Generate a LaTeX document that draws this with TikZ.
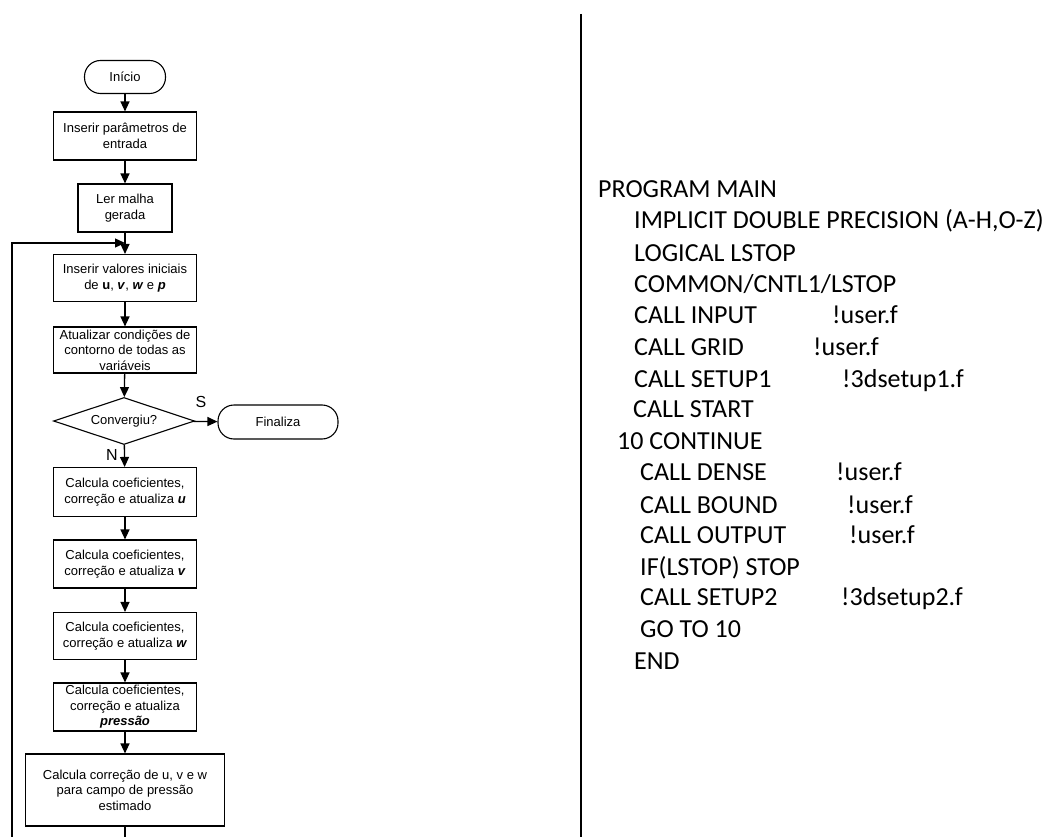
\documentclass[tikz,border=0pt]{standalone}
\usepackage{fontspec}
\setmainfont{Liberation Sans}
\newfontfamily\codefont{Carlito}
\usetikzlibrary{shapes.geometric,arrows.meta}
\begin{document}
\begin{tikzpicture}[x=1pt, y=-1pt, every node/.style={font=\fontsize{13}{15.5}\selectfont}]
  \tikzstyle{proc}=[draw,line width=1.1pt,minimum width=143pt,minimum height=48pt,align=center,inner sep=2pt]
  \tikzstyle{term}=[draw,line width=1.1pt,rounded corners=16pt,minimum height=33pt,align=center]
  \tikzstyle{flow}=[line width=1.3pt,-{Triangle[length=10pt,width=9pt]}]
  \tikzstyle{code}=[anchor=base west,inner sep=0pt,font=\codefont\fontsize{26}{30}\selectfont]
  \useasboundingbox (0,0) rectangle (1049,837);
  % flowchart
  \node[term,minimum width=81pt] (ini) at (125,77) {Início};
  \node[proc] (par) at (125,136) {Inserir parâmetros de\\entrada};
  \node[proc,minimum width=94pt] (ler) at (125,208) {Ler malha\\gerada};
  \node[proc,minimum height=47pt] (iniv) at (125,278) {Inserir valores iniciais\\de \textbf{u}, \textbf{\textit{v}}, \textbf{\textit{w}} e \textbf{\textit{p}}};
  \node[proc,minimum height=46pt] (cont) at (125,350) {Atualizar condições de\\contorno de todas as\\variáveis};
  \node[draw,line width=1.1pt,diamond,aspect=3,inner sep=0pt,minimum width=141pt,minimum height=47pt] (conv) at (124,421) {Convergiu?};
  \node[term,minimum width=120pt,minimum height=34pt] (fim) at (278,422) {Finaliza};
  \node[proc,minimum height=49pt] (cu) at (125,492) {Calcula coeficientes,\\correção e atualiza \textbf{\textit{u}}};
  \node[proc] (cv) at (125,564) {Calcula coeficientes,\\correção e atualiza \textbf{\textit{v}}};
  \node[proc,minimum height=47pt] (cw) at (125,636) {Calcula coeficientes,\\correção e atualiza \textbf{\textit{w}}};
  \node[proc] (cp) at (125,707) {Calcula coeficientes,\\correção e atualiza\\\textbf{\textit{pressão}}};
  \node[proc,minimum width=199pt,minimum height=72pt] (corr) at (125,790) {Calcula correção de u, v e w\\para campo de pressão\\estimado};
  \node[font=\fontsize{16}{18}\selectfont] (sim) at (201,402) {S};
  \node[font=\fontsize{16}{18}\selectfont] (nao) at (112,455) {N};
  \coordinate (join) at (125,243);
  \coordinate (loopbot) at (12,837);
  \coordinate (outbot) at (125,837);
  \draw[flow] (ini) -- (par);
  \draw[flow] (par) -- (ler);
  \draw[flow] (ler) -- (iniv);
  \draw[flow] (iniv) -- (cont);
  \draw[flow] (cont) -- (conv);
  \draw[flow] (conv) -- (fim);
  \draw[flow] (conv) -- (cu);
  \draw[flow] (cu) -- (cv);
  \draw[flow] (cv) -- (cw);
  \draw[flow] (cw) -- (cp);
  \draw[flow] (cp) -- (corr);
  \draw[line width=1.3pt] (corr) -- (outbot);
  \draw[flow] (loopbot) |- (join);
  % divider
  \coordinate (divtop) at (581,14);
  \coordinate (divbot) at (581,837);
  \draw[line width=2pt] (divtop) -- (divbot);
  % program listing
  \node[code] (l1) at (598,197) {PROGRAM MAIN};
  \node[code] (l2) at (634,229) {IMPLICIT DOUBLE PRECISION (A-H,O-Z)};
  \node[code] (l3) at (634,261) {LOGICAL LSTOP};
  \node[code] (l4) at (634,292) {COMMON/CNTL1/LSTOP};
  \node[code] (l5) at (634,323) {CALL INPUT};
  \node[code] (c5) at (832,323) {!user.f};
  \node[code] (l6) at (634,355) {CALL GRID};
  \node[code] (c6) at (813,355) {!user.f};
  \node[code] (l7) at (634,387) {CALL SETUP1};
  \node[code] (c7) at (842,387) {!3dsetup1.f};
  \node[code] (l8) at (633,417) {CALL START};
  \node[code] (l9) at (617,449) {10 CONTINUE};
  \node[code] (l10) at (640,480) {CALL DENSE};
  \node[code] (c10) at (836,480) {!user.f};
  \node[code] (l11) at (640,513) {CALL BOUND};
  \node[code] (c11) at (847,513) {!user.f};
  \node[code] (l12) at (640,543) {CALL OUTPUT};
  \node[code] (c12) at (849,543) {!user.f};
  \node[code] (l13) at (640,575) {IF(LSTOP) STOP};
  \node[code] (l14) at (640,605) {CALL SETUP2};
  \node[code] (c14) at (841,605) {!3dsetup2.f};
  \node[code] (l15) at (640,637) {GO TO 10};
  \node[code] (l16) at (634,669) {END};
\end{tikzpicture}
\end{document}
